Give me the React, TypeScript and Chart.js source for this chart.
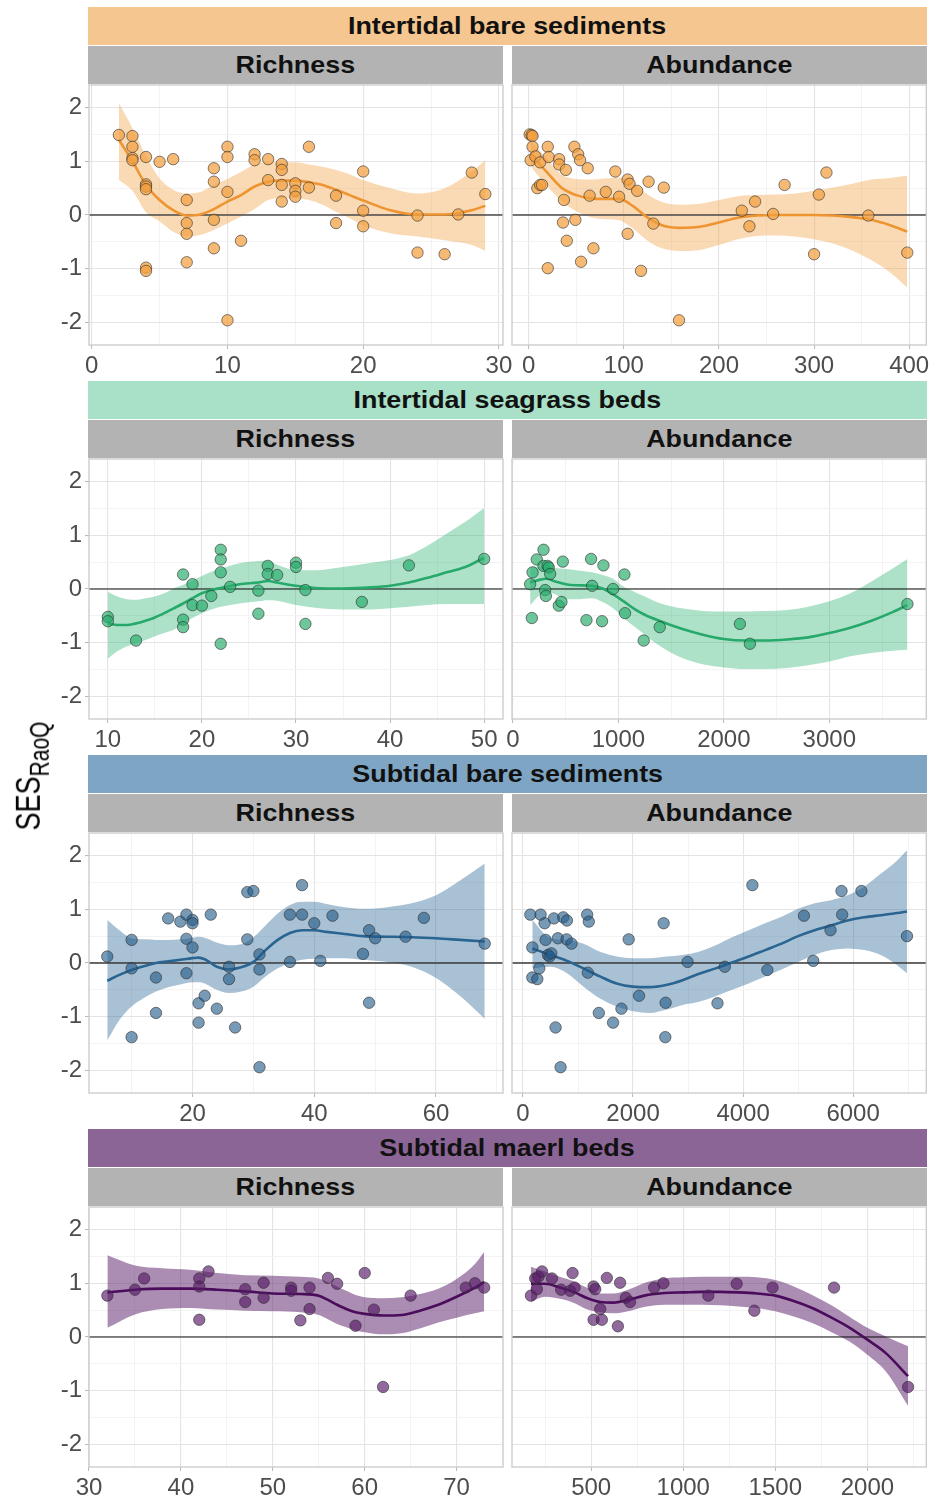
import React, { useEffect, useRef } from 'react';
import { Chart, registerables } from 'chart.js';

Chart.register(...registerables);

// ---------- Intertidal bare sediments ----------
const ibRichX = [2, 3, 3, 3, 3, 4, 4, 4, 4, 4, 4, 5, 6, 7, 7, 7, 7, 9, 9, 9, 9, 10, 10, 10, 10, 11, 12, 12, 13, 13, 14, 14, 14, 14, 15, 15, 15, 16, 16, 18, 18, 20, 20, 20, 24, 24, 26, 27, 28, 29];
const ibRichY = [1.49, 1.47, 1.27, 1.06, 1.02, 1.08, 0.57, 0.53, 0.48, -0.98, -1.04, 0.99, 1.04, 0.28, -0.15, -0.35, -0.88, 0.87, 0.62, -0.09, -0.62, 1.27, 1.08, 0.43, -1.96, -0.48, 1.13, 1.02, 1.04, 0.65, 0.95, 0.84, 0.56, 0.25, 0.59, 0.45, 0.34, 1.27, 0.51, 0.36, -0.15, 0.81, 0.08, -0.21, -0.01, -0.7, -0.73, 0.01, 0.79, 0.39];
const ibRichFitX = [2, 3, 4, 5, 6, 7, 8, 9, 10, 11, 12, 13, 14, 15, 16, 17, 18, 19, 20, 22, 24, 26, 28, 29];
const ibRichFit = [1.4, 1.0, 0.56, 0.28, 0.09, -0.01, 0.01, 0.11, 0.25, 0.37, 0.53, 0.62, 0.64, 0.64, 0.61, 0.56, 0.47, 0.37, 0.27, 0.09, 0.01, 0.01, 0.09, 0.17];
const ibRichHi = [2.08, 1.62, 1.1, 0.68, 0.47, 0.4, 0.43, 0.56, 0.67, 0.8, 0.94, 0.98, 0.98, 0.98, 0.94, 0.9, 0.84, 0.76, 0.65, 0.5, 0.4, 0.5, 0.81, 1.02];
const ibRichLo = [0.65, 0.45, 0.05, -0.12, -0.31, -0.4, -0.37, -0.28, -0.16, -0.03, 0.11, 0.28, 0.31, 0.31, 0.28, 0.19, 0.06, -0.06, -0.19, -0.34, -0.4, -0.47, -0.56, -0.67];

const ibAbunX = [1, 3, 4, 4, 2, 7, 12, 9, 12, 14, 20, 21, 20, 32, 32, 39, 37, 36, 40, 48, 52, 54, 62, 49, 55, 64, 68, 81, 91, 95, 104, 106, 104, 114, 118, 126, 131, 142, 158, 224, 232, 238, 257, 269, 300, 305, 313, 357, 398];
const ibAbunY = [1.5, 1.49, 1.47, 1.27, 1.02, 1.09, 0.98, 0.5, 0.56, 0.56, 1.27, 1.08, -0.99, 1.04, 0.94, 0.84, 0.28, -0.14, -0.48, 1.27, 1.13, 1.02, 0.87, -0.09, -0.87, 0.36, -0.62, 0.43, 0.81, 0.34, 0.66, 0.58, -0.35, 0.45, -1.04, 0.62, -0.16, 0.51, -1.96, 0.08, -0.21, 0.25, 0.02, 0.56, -0.73, 0.38, 0.79, -0.01, -0.7];
const ibAbunFitX = [2, 5, 20, 35, 50, 65, 80, 95, 110, 125, 140, 160, 180, 200, 220, 240, 260, 280, 300, 320, 340, 360, 380, 398];
const ibAbunFit = [1.15, 1.08, 0.78, 0.5, 0.37, 0.31, 0.3, 0.3, 0.16, -0.05, -0.19, -0.24, -0.22, -0.14, -0.05, -0.01, 0.0, 0.0, 0.0, -0.01, -0.04, -0.09, -0.19, -0.31];
const ibAbunHi = [1.38, 1.32, 1.03, 0.75, 0.67, 0.66, 0.68, 0.7, 0.58, 0.38, 0.24, 0.19, 0.21, 0.28, 0.35, 0.37, 0.38, 0.4, 0.45, 0.51, 0.58, 0.66, 0.69, 0.73];
const ibAbunLo = [0.92, 0.84, 0.53, 0.25, 0.07, -0.04, -0.08, -0.1, -0.26, -0.48, -0.62, -0.67, -0.65, -0.56, -0.45, -0.39, -0.38, -0.4, -0.45, -0.53, -0.66, -0.84, -1.07, -1.35];

// ---------- Intertidal seagrass beds ----------
const sgRichX = [10, 10, 13, 18, 18, 18, 19, 19, 20, 21, 22, 22, 22, 22, 23, 26, 26, 27, 27, 28, 30, 30, 31, 31, 37, 42, 50];
const sgRichY = [-0.52, -0.6, -0.96, 0.27, -0.57, -0.71, 0.09, -0.3, -0.31, -0.13, 0.73, 0.55, 0.31, -1.02, 0.04, -0.03, -0.46, 0.43, 0.28, 0.26, 0.49, 0.41, -0.02, -0.65, -0.24, 0.44, 0.56];
const sgRichFitX = [10, 11, 12, 13, 14, 15, 16, 17, 18, 19, 20, 21, 22, 24, 26, 27, 28, 30, 32, 35, 38, 40, 42, 44, 46, 48, 50];
const sgRichFit = [-0.64, -0.67, -0.67, -0.64, -0.59, -0.53, -0.45, -0.36, -0.27, -0.17, -0.08, -0.02, 0.02, 0.09, 0.12, 0.15, 0.12, 0.06, 0.02, 0.01, 0.03, 0.06, 0.12, 0.21, 0.31, 0.41, 0.58];
const sgRichHi = [-0.05, -0.14, -0.19, -0.2, -0.17, -0.14, -0.08, 0.01, 0.08, 0.16, 0.24, 0.32, 0.38, 0.48, 0.52, 0.53, 0.45, 0.35, 0.35, 0.41, 0.49, 0.54, 0.63, 0.81, 1.03, 1.25, 1.51];
const sgRichLo = [-1.3, -1.16, -1.07, -1.01, -0.95, -0.88, -0.82, -0.76, -0.64, -0.54, -0.45, -0.38, -0.33, -0.27, -0.23, -0.21, -0.22, -0.3, -0.35, -0.38, -0.38, -0.36, -0.33, -0.3, -0.28, -0.28, -0.28];

const sgAbunX = [163, 179, 186, 226, 290, 290, 305, 312, 328, 340, 353, 435, 460, 473, 697, 741, 751, 845, 858, 949, 1057, 1063, 1240, 1392, 2152, 2247, 3741];
const sgAbunY = [0.09, -0.54, 0.31, 0.55, 0.73, 0.43, -0.02, -0.13, 0.43, 0.4, 0.28, -0.31, -0.24, 0.51, -0.58, 0.56, 0.06, -0.6, 0.44, 0.0, 0.27, -0.45, -0.96, -0.71, -0.65, -1.02, -0.28];
const sgAbunFitX = [163, 250, 320, 400, 500, 600, 750, 850, 950, 1050, 1150, 1250, 1400, 1600, 1800, 2000, 2200, 2400, 2600, 2800, 3000, 3200, 3400, 3600, 3741];
const sgAbunFit = [0.12, 0.17, 0.19, 0.14, 0.09, 0.07, 0.06, 0.01, -0.1, -0.23, -0.37, -0.48, -0.6, -0.74, -0.85, -0.93, -0.96, -0.96, -0.94, -0.9, -0.82, -0.72, -0.59, -0.43, -0.3];
const sgAbunHi = [0.41, 0.42, 0.41, 0.39, 0.37, 0.35, 0.31, 0.26, 0.19, 0.04, -0.05, -0.14, -0.27, -0.36, -0.41, -0.42, -0.42, -0.41, -0.39, -0.33, -0.23, -0.08, 0.14, 0.38, 0.56];
const sgAbunLo = [-0.3, -0.12, -0.05, -0.1, -0.19, -0.19, -0.17, -0.24, -0.36, -0.54, -0.7, -0.85, -1.07, -1.28, -1.4, -1.46, -1.49, -1.49, -1.47, -1.42, -1.35, -1.25, -1.19, -1.15, -1.13];

// ---------- Subtidal bare sediments ----------
const sbRichX = [6, 10, 10, 10, 14, 14, 16, 18, 19, 19, 19, 20, 20, 20, 21, 21, 22, 23, 24, 26, 26, 27, 29, 29, 30, 31, 31, 31, 36, 36, 38, 38, 40, 41, 43, 48, 49, 49, 50, 55, 58, 68];
const sbRichY = [0.12, 0.43, -0.1, -1.38, -0.27, -0.93, 0.83, 0.77, 0.9, 0.45, -0.19, 0.8, 0.74, 0.29, -0.75, -1.11, -0.61, 0.9, -0.85, -0.07, -0.3, -1.2, 1.32, 0.44, 1.34, 0.16, -0.12, -1.94, 0.9, 0.02, 1.45, 0.9, 0.74, 0.04, 0.88, 0.17, 0.61, -0.74, 0.46, 0.49, 0.84, 0.36];
const sbRichFitX = [6, 8, 10, 12, 14, 16, 18, 20, 21, 22, 23, 24, 26, 28, 30, 32, 34, 36, 38, 40, 42, 45, 48, 52, 56, 60, 64, 68];
const sbRichFit = [-0.33, -0.22, -0.13, -0.06, 0.0, 0.03, 0.06, 0.09, 0.1, 0.07, 0.0, -0.07, -0.12, -0.08, 0.02, 0.24, 0.43, 0.56, 0.61, 0.61, 0.58, 0.54, 0.5, 0.49, 0.48, 0.46, 0.43, 0.4];
const sbRichHi = [0.8, 0.61, 0.46, 0.44, 0.43, 0.43, 0.44, 0.47, 0.49, 0.47, 0.43, 0.38, 0.33, 0.35, 0.48, 0.7, 0.92, 1.08, 1.14, 1.14, 1.1, 1.04, 1.01, 1.04, 1.11, 1.26, 1.54, 1.85];
const sbRichLo = [-1.44, -1.06, -0.81, -0.65, -0.53, -0.45, -0.4, -0.36, -0.36, -0.38, -0.44, -0.5, -0.56, -0.53, -0.44, -0.25, -0.1, 0.0, 0.06, 0.08, 0.09, 0.09, 0.06, 0.02, -0.07, -0.28, -0.62, -1.04];

const sbAbunX = [133, 169, 169, 260, 296, 320, 393, 411, 453, 483, 514, 562, 592, 634, 683, 731, 798, 792, 882, 1166, 1196, 1178, 1378, 1637, 1789, 1921, 2109, 2556, 2592, 2586, 2991, 3535, 3668, 4169, 4441, 5106, 5275, 5589, 5789, 5801, 6151, 6979];
const sbAbunY = [0.9, 0.29, -0.27, -0.3, -0.1, 0.9, 0.74, 0.43, 0.15, 0.12, 0.18, 0.83, -1.2, 0.46, -1.94, 0.85, 0.79, 0.44, 0.36, 0.9, 0.77, -0.18, -0.93, -1.11, -0.85, 0.44, -0.61, 0.74, -0.74, -1.38, 0.02, -0.75, -0.07, 1.45, -0.13, 0.88, 0.04, 0.61, 1.34, 0.9, 1.34, 0.5];
const sbAbunFitX = [169, 500, 800, 1100, 1400, 1700, 2000, 2300, 2600, 2900, 3200, 3500, 3800, 4100, 4400, 4700, 5000, 5300, 5600, 5900, 6200, 6500, 6800, 6979];
const sbAbunFit = [0.27, 0.15, 0.04, -0.1, -0.25, -0.38, -0.44, -0.45, -0.41, -0.32, -0.2, -0.1, 0.01, 0.12, 0.24, 0.36, 0.5, 0.61, 0.7, 0.79, 0.85, 0.89, 0.93, 0.96];
const sbAbunHi = [0.8, 0.46, 0.43, 0.36, 0.21, 0.12, 0.09, 0.09, 0.12, 0.15, 0.21, 0.33, 0.48, 0.61, 0.74, 0.86, 1.01, 1.11, 1.17, 1.26, 1.42, 1.66, 1.91, 2.1];
const sbAbunLo = [-0.1, -0.07, -0.19, -0.44, -0.66, -0.81, -0.9, -0.93, -0.87, -0.78, -0.72, -0.62, -0.5, -0.38, -0.25, -0.12, 0.02, 0.15, 0.24, 0.27, 0.24, 0.15, -0.04, -0.19];

// ---------- Subtidal maerl beds ----------
const mbRichX = [32, 35, 36, 42, 42, 42, 43, 47, 47, 49, 49, 52, 52, 53, 54, 54, 56, 57, 59, 60, 61, 62, 65, 71, 72, 73];
const mbRichY = [0.77, 0.88, 1.09, 1.09, 0.94, 0.32, 1.22, 0.89, 0.65, 1.01, 0.73, 0.92, 0.86, 0.31, 0.92, 0.52, 1.1, 0.99, 0.21, 1.19, 0.51, -0.93, 0.77, 0.92, 1.0, 0.92];
const mbRichFitX = [32, 35, 38, 41, 44, 47, 50, 53, 55, 56, 57, 58, 59, 60, 62, 64, 66, 68, 70, 72, 73];
const mbRichFit = [0.83, 0.88, 0.9, 0.9, 0.88, 0.85, 0.81, 0.8, 0.77, 0.69, 0.6, 0.52, 0.46, 0.43, 0.4, 0.41, 0.49, 0.6, 0.75, 0.92, 1.02];
const mbRichHi = [1.52, 1.33, 1.28, 1.25, 1.19, 1.15, 1.14, 1.12, 1.09, 1.02, 0.94, 0.86, 0.78, 0.74, 0.72, 0.74, 0.8, 0.9, 1.08, 1.36, 1.58];
const mbRichLo = [0.17, 0.42, 0.52, 0.54, 0.51, 0.49, 0.48, 0.46, 0.41, 0.33, 0.24, 0.18, 0.12, 0.09, 0.05, 0.07, 0.16, 0.27, 0.36, 0.44, 0.48];

const mbAbunX = [173, 196, 205, 214, 233, 287, 337, 386, 399, 410, 513, 522, 513, 558, 549, 585, 645, 657, 688, 711, 842, 892, 1136, 1290, 1386, 1485, 1819, 2221];
const mbAbunY = [0.77, 1.09, 0.89, 1.12, 1.22, 1.09, 0.88, 0.86, 1.19, 0.92, 0.94, 0.89, 0.32, 0.32, 0.52, 1.1, 0.2, 1.01, 0.73, 0.65, 0.92, 1.0, 0.77, 0.99, 0.49, 0.92, 0.92, -0.93];
const mbAbunFitX = [173, 250, 330, 410, 480, 550, 620, 700, 800, 900, 1000, 1100, 1200, 1300, 1400, 1500, 1600, 1700, 1800, 1900, 2000, 2100, 2221];
const mbAbunFit = [0.99, 0.99, 0.92, 0.83, 0.72, 0.65, 0.64, 0.69, 0.78, 0.82, 0.83, 0.84, 0.84, 0.83, 0.81, 0.77, 0.67, 0.54, 0.37, 0.18, -0.05, -0.3, -0.73];
const mbAbunHi = [1.31, 1.22, 1.12, 1.03, 0.91, 0.81, 0.81, 0.88, 1.02, 1.09, 1.11, 1.12, 1.12, 1.12, 1.11, 1.06, 0.94, 0.78, 0.6, 0.38, 0.17, 0.01, -0.17];
const mbAbunLo = [0.66, 0.75, 0.71, 0.63, 0.51, 0.46, 0.44, 0.48, 0.57, 0.6, 0.6, 0.6, 0.59, 0.57, 0.54, 0.48, 0.38, 0.26, 0.1, -0.08, -0.33, -0.64, -1.28];

// ---------- Axis ticks ----------
const yMajorTicks = [-2, -1, 0, 1, 2];
const yMinorTicks = [-1.5, -0.5, 0.5, 1.5];
const Y_LIMITS = [-2.42, 2.42];

const ibRichTicks = [0, 10, 20, 30];
const ibRichMinor = [5, 15, 25];
const ibAbunTicks = [0, 100, 200, 300, 400];
const ibAbunMinor = [50, 150, 250, 350];
const sgRichTicks = [10, 20, 30, 40, 50];
const sgRichMinor = [15, 25, 35, 45];
const sgAbunTicks = [0, 1000, 2000, 3000];
const sgAbunMinor = [500, 1500, 2500, 3500];
const sbRichTicks = [20, 40, 60];
const sbRichMinor = [10, 30, 50, 70];
const sbAbunTicks = [0, 2000, 4000, 6000];
const sbAbunMinor = [1000, 3000, 5000, 7000];
const mbRichTicks = [30, 40, 50, 60, 70];
const mbRichMinor = [35, 45, 55, 65, 75];
const mbAbunTicks = [500, 1000, 1500, 2000];
const mbAbunMinor = [250, 750, 1250, 1750, 2250];

const habitatNames = ['Intertidal bare sediments', 'Intertidal seagrass beds', 'Subtidal bare sediments', 'Subtidal maerl beds'];
const facetNames = ['Richness', 'Abundance'];

type PanelSpec = {
  px: number[]; py: number[]; fx: number[]; fy: number[]; lo: number[]; hi: number[];
  xMin: number; xMax: number; major: number[]; minor: number[];
};
type HabStyle = { strip: string; point: string; line: string; ribbon: string; zero: string; zeroW: number };

const styles: HabStyle[] = [
  { strip: '#F5C68F', point: 'rgba(243,160,62,0.72)', line: '#EE9430', ribbon: 'rgba(243,163,68,0.4)', zero: '#4A4A4A', zeroW: 1.6 },
  { strip: '#A8E0C8', point: 'rgba(40,172,108,0.68)', line: '#26A96B', ribbon: 'rgba(40,178,112,0.38)', zero: '#111111', zeroW: 1.2 },
  { strip: '#7EA5C3', point: 'rgba(35,92,138,0.62)', line: '#2A6592', ribbon: 'rgba(40,100,148,0.4)', zero: '#3A3A3A', zeroW: 1.5 },
  { strip: '#8C6597', point: 'rgba(88,28,104,0.66)', line: '#4B0C5B', ribbon: 'rgba(88,28,104,0.5)', zero: '#111111', zeroW: 1.2 },
];

const panels: PanelSpec[][] = [
  [
    { px: ibRichX, py: ibRichY, fx: ibRichFitX, fy: ibRichFit, lo: ibRichLo, hi: ibRichHi, xMin: -0.2, xMax: 30.3, major: ibRichTicks, minor: ibRichMinor },
    { px: ibAbunX, py: ibAbunY, fx: ibAbunFitX, fy: ibAbunFit, lo: ibAbunLo, hi: ibAbunHi, xMin: -17.6, xMax: 418, major: ibAbunTicks, minor: ibAbunMinor },
  ],
  [
    { px: sgRichX, py: sgRichY, fx: sgRichFitX, fy: sgRichFit, lo: sgRichLo, hi: sgRichHi, xMin: 8, xMax: 52, major: sgRichTicks, minor: sgRichMinor },
    { px: sgAbunX, py: sgAbunY, fx: sgAbunFitX, fy: sgAbunFit, lo: sgAbunLo, hi: sgAbunHi, xMin: -9, xMax: 3920, major: sgAbunTicks, minor: sgAbunMinor },
  ],
  [
    { px: sbRichX, py: sbRichY, fx: sbRichFitX, fy: sbRichFit, lo: sbRichLo, hi: sbRichHi, xMin: 3, xMax: 71, major: sbRichTicks, minor: sbRichMinor },
    { px: sbAbunX, py: sbAbunY, fx: sbAbunFitX, fy: sbAbunFit, lo: sbAbunLo, hi: sbAbunHi, xMin: -200, xMax: 7330, major: sbAbunTicks, minor: sbAbunMinor },
  ],
  [
    { px: mbRichX, py: mbRichY, fx: mbRichFitX, fy: mbRichFit, lo: mbRichLo, hi: mbRichHi, xMin: 30, xMax: 75.05, major: mbRichTicks, minor: mbRichMinor },
    { px: mbAbunX, py: mbAbunY, fx: mbAbunFitX, fy: mbAbunFit, lo: mbAbunLo, hi: mbAbunHi, xMin: 70, xMax: 2320, major: mbAbunTicks, minor: mbAbunMinor },
  ],
];

// ---------- Layout ----------
const ROW_TOPS = [85, 459, 833, 1207];
const PANEL_H = 260;
const X_AXIS_H = 42;
const PAD_TOP = 20;
const FONT = '"Liberation Sans", Arial, Helvetica, sans-serif';

const borderPlugin = {
  id: 'panelBorder',
  afterDraw(chart: any) {
    const { ctx, chartArea } = chart;
    const { left, top, right, bottom } = chartArea;
    ctx.save();
    ctx.strokeStyle = '#CDCDCD';
    ctx.lineWidth = 1.4;
    ctx.strokeRect(left, top, right - left, bottom - top);
    ctx.restore();
  },
};

function makeTicks(major: number[], minor: number[]) {
  const majorSet = new Set(major);
  return [...major, ...minor].sort((a, b) => a - b).map((v) => ({ value: v, isMajor: majorSet.has(v) }));
}

const gridOpts = (drawTicks: boolean) => ({
  color: (c: any) => (c.tick && c.tick.isMajor ? '#E4E4E4' : '#F2F2F2'),
  lineWidth: (c: any) => (c.tick && c.tick.isMajor ? 1.1 : 0.9),
  drawTicks,
  tickLength: 4,
  tickWidth: 1,
  tickColor: (c: any) => (c.tick && c.tick.isMajor ? '#B8B8B8' : 'rgba(0,0,0,0)'),
});

function PanelChart({ p, st, col, top }: { p: PanelSpec; st: HabStyle; col: number; top: number }) {
  const ref = useRef<HTMLCanvasElement>(null);
  const isLeft = col === 0;
  const canvasLeft = isLeft ? 40 : 492;
  const canvasW = isLeft ? 493 : 441;
  const canvasH = PAD_TOP + PANEL_H + X_AXIS_H;

  useEffect(() => {
    const canvas = ref.current;
    if (!canvas) return;
    const xt = makeTicks(p.major, p.minor);
    const yt = makeTicks(yMajorTicks, yMinorTicks);
    const labelCb = (v: any, i: number, ticks: any[]) => (ticks[i] && ticks[i].isMajor ? String(v) : '');
    const chart = new Chart(canvas, {
      type: 'scatter',
      data: {
        datasets: [
          {
            type: 'scatter',
            data: p.px.map((x, i) => ({ x, y: p.py[i] })),
            backgroundColor: st.point,
            borderColor: 'rgba(45,45,45,0.6)',
            borderWidth: 1,
            pointRadius: 5.7,
            order: 0,
          } as any,
          {
            type: 'line',
            data: p.fx.map((x, i) => ({ x, y: p.fy[i] })),
            borderColor: st.line,
            borderWidth: 2.6,
            pointRadius: 0,
            fill: false,
            cubicInterpolationMode: 'monotone',
            order: 1,
          },
          {
            type: 'line',
            data: [{ x: p.xMin, y: 0 }, { x: p.xMax, y: 0 }],
            borderColor: st.zero,
            borderWidth: st.zeroW,
            pointRadius: 0,
            fill: false,
            order: 2,
          },
          {
            type: 'line',
            data: p.fx.map((x, i) => ({ x, y: p.hi[i] })),
            borderColor: 'rgba(0,0,0,0)',
            borderWidth: 0,
            pointRadius: 0,
            backgroundColor: st.ribbon,
            fill: '+1',
            cubicInterpolationMode: 'monotone',
            order: 3,
          },
          {
            type: 'line',
            data: p.fx.map((x, i) => ({ x, y: p.lo[i] })),
            borderColor: 'rgba(0,0,0,0)',
            borderWidth: 0,
            pointRadius: 0,
            fill: false,
            cubicInterpolationMode: 'monotone',
            order: 4,
          },
        ],
      },
      options: {
        animation: false,
        responsive: false,
        devicePixelRatio: 1,
        events: [],
        layout: { padding: { left: isLeft ? 0 : 20, right: isLeft ? 30 : 6, top: PAD_TOP, bottom: 0 } },
        plugins: { legend: { display: false }, tooltip: { enabled: false } },
        scales: {
          x: {
            type: 'linear',
            min: p.xMin,
            max: p.xMax,
            afterBuildTicks: (s: any) => { s.ticks = xt.map((t) => ({ ...t })); },
            afterFit: (s: any) => { s.height = X_AXIS_H; },
            ticks: {
              autoSkip: false,
              maxRotation: 0,
              minRotation: 0,
              padding: 3,
              color: '#4D4D4D',
              font: { family: FONT, size: 24 },
              callback: labelCb,
            },
            grid: gridOpts(true),
            border: { display: false },
          },
          y: {
            type: 'linear',
            min: Y_LIMITS[0],
            max: Y_LIMITS[1],
            afterBuildTicks: (s: any) => { s.ticks = yt.map((t) => ({ ...t })); },
            afterFit: (s: any) => { s.width = isLeft ? 49 : 0; },
            ticks: {
              display: isLeft,
              autoSkip: false,
              padding: 3,
              color: '#4D4D4D',
              font: { family: FONT, size: 24 },
              callback: labelCb,
            },
            grid: gridOpts(isLeft),
            border: { display: false },
          },
        },
      } as any,
      plugins: [borderPlugin],
    });
    return () => chart.destroy();
  }, [p, st, isLeft]);

  return (
    <canvas
      ref={ref}
      width={canvasW}
      height={canvasH}
      style={{ position: 'absolute', left: canvasLeft, top: top - PAD_TOP, width: canvasW, height: canvasH }}
    />
  );
}

const stripText: React.CSSProperties = {
  display: 'inline-block',
  fontSize: 24,
  fontWeight: 700,
  color: '#111',
  transform: 'scaleX(1.12)',
  lineHeight: 1,
};

function Strip({ left, top, width, bg, text }: { left: number; top: number; width: number; bg: string; text: string }) {
  return (
    <div
      style={{
        position: 'absolute', left, top, width, height: 38, background: bg,
        display: 'flex', alignItems: 'center', justifyContent: 'center', fontFamily: FONT,
      }}
    >
      <span style={stripText}>{text}</span>
    </div>
  );
}

export default function App() {
  return (
    <div style={{ position: 'absolute', left: 0, top: 0, width: 933, height: 1501, background: '#fff', overflow: 'hidden', fontFamily: FONT }}>
      {ROW_TOPS.map((top, k) => (
        <React.Fragment key={k}>
          <Strip left={88} top={top - 78} width={839} bg={styles[k].strip} text={habitatNames[k]} />
          <Strip left={88} top={top - 39} width={415} bg="#B3B3B3" text={facetNames[0]} />
          <Strip left={512} top={top - 39} width={415} bg="#B3B3B3" text={facetNames[1]} />
          <PanelChart p={panels[k][0]} st={styles[k]} col={0} top={top} />
          <PanelChart p={panels[k][1]} st={styles[k]} col={1} top={top} />
        </React.Fragment>
      ))}
      <div
        style={{
          position: 'absolute', left: 29, top: 776, transform: 'translate(-50%, -50%) rotate(-90deg) scaleY(1.3)',
          whiteSpace: 'nowrap', fontFamily: FONT, fontSize: 27, color: '#000', lineHeight: 1,
        }}
      >
        SES<span style={{ fontSize: 21, position: 'relative', top: 7 }}>RaoQ</span>
      </div>
    </div>
  );
}
